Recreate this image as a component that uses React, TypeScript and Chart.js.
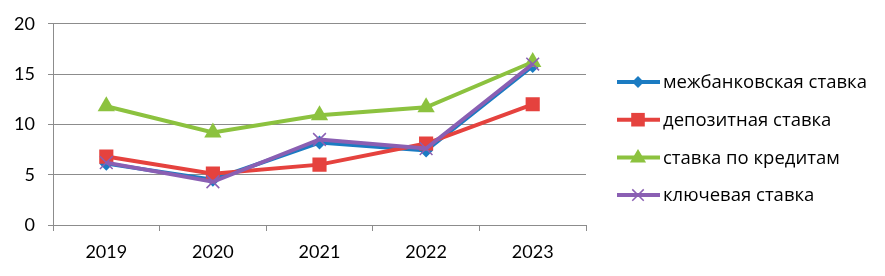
import React, { useEffect, useRef } from "react";
import { Chart, registerables } from "chart.js";

Chart.register(...registerables);

const categories = ["2019", "2020", "2021", "2022", "2023"];
const interbankRate = [6.1, 4.5, 8.2, 7.4, 15.8];
const depositRate = [6.8, 5.1, 6.0, 8.1, 12.0];
const loanRate = [11.8, 9.2, 10.9, 11.7, 16.2];
const keyRate = [6.2, 4.3, 8.5, 7.6, 16.0];
const seriesNames = ["межбанковская ставка", "депозитная ставка", "ставка по кредитам", "ключевая ставка"];
const yTicks = [0, 5, 10, 15, 20];

const FONT = "Lato, 'Open Sans', sans-serif";
const LEGEND_FONT = "'Open Sans', sans-serif";

function drawMarker(ctx: CanvasRenderingContext2D, style: string, r: number, x: number, y: number, color: string) {
  ctx.save();
  ctx.fillStyle = color;
  ctx.strokeStyle = color;
  ctx.beginPath();
  if (style === "rectRot") {
    ctx.moveTo(x, y - r);
    ctx.lineTo(x + r, y);
    ctx.lineTo(x, y + r);
    ctx.lineTo(x - r, y);
    ctx.closePath();
    ctx.fill();
  } else if (style === "rect") {
    const s = r * 0.8;
    ctx.rect(x - s, y - s, 2 * s, 2 * s);
    ctx.fill();
  } else if (style === "triangle") {
    ctx.moveTo(x, y - r);
    ctx.lineTo(x + r * 0.95, y + r * 0.6);
    ctx.lineTo(x - r * 0.95, y + r * 0.6);
    ctx.closePath();
    ctx.fill();
  } else {
    ctx.lineWidth = 1.5;
    const s = r * 0.75;
    ctx.moveTo(x - s, y - s);
    ctx.lineTo(x + s, y + s);
    ctx.moveTo(x + s, y - s);
    ctx.lineTo(x - s, y + s);
    ctx.stroke();
  }
  ctx.restore();
}

const legendPlugin = {
  id: "sideLegend",
  afterDraw(chart: any) {
    const ctx = chart.ctx;
    const startY = 82;
    const gap = 37.7;
    chart.data.datasets.forEach((ds: any, k: number) => {
      const y = startY + k * gap;
      ctx.save();
      ctx.strokeStyle = ds.borderColor;
      ctx.lineWidth = ds.borderWidth;
      ctx.beginPath();
      ctx.moveTo(617, y);
      ctx.lineTo(660, y);
      ctx.stroke();
      drawMarker(ctx, ds.pointStyle, ds.pointRadius * 0.85, 638, y, ds.borderColor);
      ctx.fillStyle = "#000";
      ctx.font = `18.5px ${LEGEND_FONT}`;
      ctx.textBaseline = "middle";
      ctx.textAlign = "left";
      ctx.fillText(ds.label, 663, y + 1);
      ctx.restore();
    });
  },
};

export default function App() {
  const ref = useRef<HTMLCanvasElement>(null);
  useEffect(() => {
    document.body.style.margin = "0";
    const mk = (label: string, data: number[], color: string, pointStyle: string, radius: number, order: number, cross?: boolean) => ({
      label,
      data,
      borderColor: color,
      backgroundColor: color,
      pointBackgroundColor: color,
      pointBorderColor: color,
      pointBorderWidth: cross ? 1.5 : 0,
      borderWidth: 4,
      pointStyle,
      pointRadius: radius,
      pointHoverRadius: radius,
      tension: 0,
      order,
    });
    const chart = new Chart(ref.current!, {
      type: "line",
      data: {
        labels: categories,
        datasets: [
          mk(seriesNames[0], interbankRate, "#1B7BC2", "rectRot", 7, 4),
          mk(seriesNames[1], depositRate, "#E5423E", "rect", 10, 3),
          mk(seriesNames[2], loanRate, "#8CC23F", "triangle", 10, 2),
          mk(seriesNames[3], keyRate, "#8A5FB3", "crossRot", 9, 1, true),
        ] as any,
      },
      options: {
        animation: false,
        responsive: false,
        devicePixelRatio: 1,
        layout: { padding: { top: 22, right: 299, left: 0, bottom: 0 } },
        plugins: { legend: { display: false }, tooltip: { enabled: false } },
        scales: {
          x: {
            offset: true,
            grid: { drawOnChartArea: false, drawTicks: true, tickLength: 6, color: "#8C8C8C", offset: true },
            border: { color: "#8C8C8C", width: 1 },
            ticks: { color: "#000", font: { family: FONT, size: 18 }, padding: 10 },
            afterFit: (s: any) => { s.height = 51; },
          },
          y: {
            min: 0,
            max: 20,
            afterBuildTicks: (s: any) => { s.ticks = yTicks.map((v) => ({ value: v })); },
            grid: { color: "#8C8C8C", tickLength: 5, lineWidth: 1 },
            border: { color: "#8C8C8C", width: 1 },
            ticks: { color: "#000", font: { family: FONT, size: 18 }, padding: 13 },
            afterFit: (s: any) => { s.width = 53; },
          },
        },
      },
      plugins: [legendPlugin],
    });
    return () => chart.destroy();
  }, []);
  return (
    <div style={{ position: "absolute", left: 0, top: 0, width: 885, height: 276, background: "#fff" }}>
      <canvas ref={ref} width={885} height={276} />
    </div>
  );
}
